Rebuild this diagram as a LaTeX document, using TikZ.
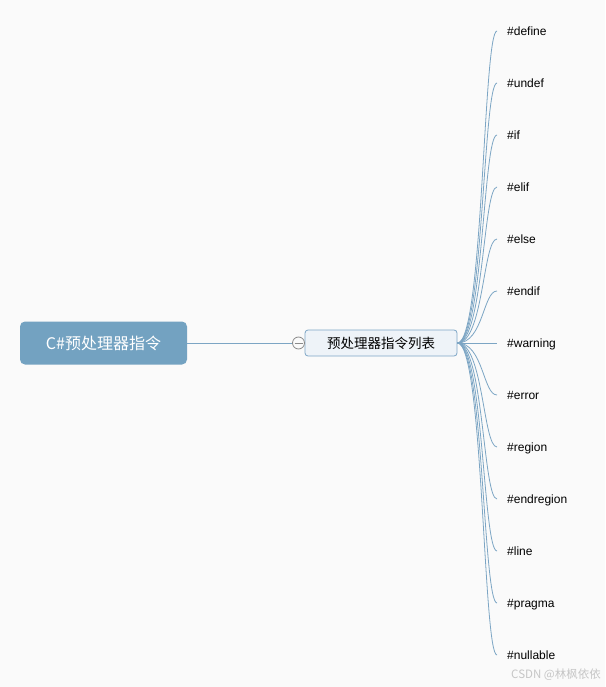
\documentclass[tikz,border=0pt]{standalone}
\usepackage{fontspec}
\setmainfont{Liberation Sans}
\newfontfamily\cjkfont{Noto Sans CJK SC}
\usepackage{tikz}
\usetikzlibrary{positioning, calc}
\definecolor{bgpaper}{HTML}{FAFAFA}
\definecolor{rootblue}{HTML}{73A2C1}
\definecolor{listfill}{HTML}{EEF3F8}
\definecolor{listline}{HTML}{7DA6C6}
\definecolor{branchblue}{HTML}{7CA5C4}
\definecolor{markgray}{HTML}{8A8A8A}

\begin{document}
\begin{tikzpicture}[x=1pt, y=-1pt,
  rootbox/.style={rectangle, rounded corners=5pt, fill=rootblue, text=white, minimum width=167pt, minimum height=43pt, inner sep=0pt, font=\cjkfont\fontsize{16}{19}\selectfont},
  listbox/.style={rectangle, rounded corners=3pt, draw=listline, line width=0.8pt, fill=listfill, minimum width=152pt, minimum height=26pt, inner sep=0pt, font=\cjkfont\fontsize{13.5}{16}\selectfont},
  leaf/.style={anchor=west, inner xsep=10pt, inner ysep=2pt, text height=10.5pt, text depth=2pt, font=\fontsize{12}{14}\selectfont},
  branch/.style={draw=branchblue, line width=0.8pt},
  toggle/.style={circle, draw=markgray, fill=bgpaper, minimum size=12pt, inner sep=0pt, line width=0.8pt}]
% paper
\fill[bgpaper] (0,0) rectangle (605,687);
\useasboundingbox (0,0) rectangle (605,687);

% Root and list
\node[rootbox] (root) at (103.5,343) {C\#预处理器指令};
\node[listbox] (list) at (381,343) {预处理器指令列表};
\node[toggle] (fold) at (298.5,343) {};
\draw[markgray, line width=0.8pt] ($(fold.center)+(-4,0)$) -- ($(fold.center)+(4,0)$);
\draw[branch] (root.east) -- (fold.west);

% Directives
\node[leaf] (d1) at (497,31) {\#define};
\node[leaf] (d2) at (497,83) {\#undef};
\node[leaf] (d3) at (497,135) {\#if};
\node[leaf] (d4) at (497,187) {\#elif};
\node[leaf] (d5) at (497,239) {\#else};
\node[leaf] (d6) at (497,291) {\#endif};
\node[leaf] (d7) at (497,343) {\#warning};
\node[leaf] (d8) at (497,395) {\#error};
\node[leaf] (d9) at (497,447) {\#region};
\node[leaf] (d10) at (497,499) {\#endregion};
\node[leaf] (d11) at (497,551) {\#line};
\node[leaf] (d12) at (497,603) {\#pragma};
\node[leaf] (d13) at (497,655) {\#nullable};

% Branches
\draw[branch] (list.east) .. controls +(26,0) and +(-14,0) .. (d1.west);
\draw[branch] (list.east) .. controls +(26,0) and +(-14,0) .. (d2.west);
\draw[branch] (list.east) .. controls +(26,0) and +(-14,0) .. (d3.west);
\draw[branch] (list.east) .. controls +(26,0) and +(-14,0) .. (d4.west);
\draw[branch] (list.east) .. controls +(26,0) and +(-14,0) .. (d5.west);
\draw[branch] (list.east) .. controls +(26,0) and +(-14,0) .. (d6.west);
\draw[branch] (list.east) -- (d7.west);
\draw[branch] (list.east) .. controls +(26,0) and +(-14,0) .. (d8.west);
\draw[branch] (list.east) .. controls +(26,0) and +(-14,0) .. (d9.west);
\draw[branch] (list.east) .. controls +(26,0) and +(-14,0) .. (d10.west);
\draw[branch] (list.east) .. controls +(26,0) and +(-14,0) .. (d11.west);
\draw[branch] (list.east) .. controls +(26,0) and +(-14,0) .. (d12.west);
\draw[branch] (list.east) .. controls +(26,0) and +(-14,0) .. (d13.west);

% watermark
\node[anchor=east, text=gray!45, inner sep=0pt, font=\cjkfont\fontsize{11.5}{13}\selectfont] (mark) at (601,675) {CSDN @林枫依依};
\end{tikzpicture}
\end{document}
